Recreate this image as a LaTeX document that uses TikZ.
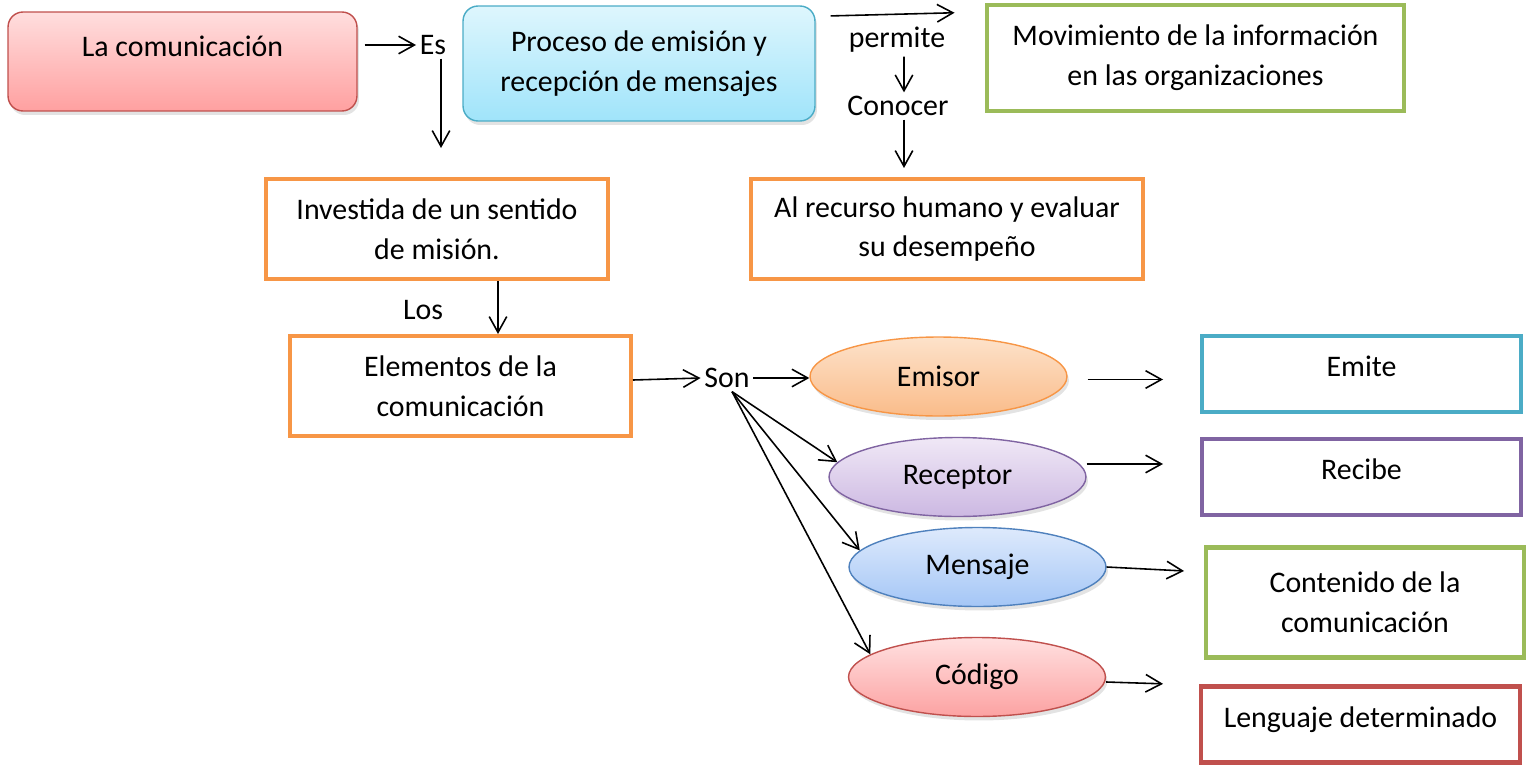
\documentclass[tikz,border=0pt]{standalone}
\usepackage{fontspec}
\setmainfont{Carlito}
\usepackage{tikz}
\usetikzlibrary{shapes.geometric,arrows.meta,shadows}

\definecolor{rojo}{RGB}{192,80,77}
\definecolor{celeste}{RGB}{75,172,198}
\definecolor{verde}{RGB}{155,187,89}
\definecolor{naranja}{RGB}{247,150,70}
\definecolor{morado}{RGB}{128,100,162}
\definecolor{azul}{RGB}{79,129,189}

\tikzset{
  every node/.style={font=\fontsize{17}{22.7}\selectfont},
  arr/.style={-{Straight Barb[length=9pt,width=10pt]},line width=0.9pt},
  sombra/.style={drop shadow={shadow xshift=0.04cm,shadow yshift=-0.08cm,opacity=0.22}},
  redondo/.style={rounded corners=0.3cm,line width=0.8pt,align=center,sombra},
  caja/.style={draw=#1,line width=2.3pt,align=center,minimum height=1.52cm},
  elipse/.style={ellipse,draw=#1,line width=0.8pt,inner sep=0pt,minimum width=5.14cm,minimum height=1.58cm,sombra},
  palabra/.style={inner sep=2pt}
}

\begin{document}
\begin{tikzpicture}[x=0.02cm,y=-0.02cm]
  \useasboundingbox (0,0) rectangle (1526,771);

  % fila de arriba
  \node[redondo,draw=rojo,top color={rgb,255:red,255;green,222;blue,222},bottom color={rgb,255:red,255;green,160;blue,160},
        minimum width=6.98cm,minimum height=1.98cm,text depth=0.62cm] (com) at (182.5,61.5) {La comunicación};
  \node[palabra] (es) at (433,45) {Es};
  \node[redondo,draw=celeste,top color={rgb,255:red,222;green,246;blue,253},bottom color={rgb,255:red,160;green,228;blue,250},
        minimum width=7.04cm,minimum height=2.3cm] (proceso) at (639,63.5) {Proceso de emisión y\\recepción de mensajes};
  \node[palabra] (permite) at (897,40) {permite};
  \node[palabra] (conocer) at (898,106) {Conocer};
  \node[caja=verde,minimum width=8.36cm,minimum height=2.12cm] (mov) at (1195.5,58) {Movimiento de la información\\en las organizaciones};
  \coordinate (esabajo) at (441,148);

  % segunda fila
  \node[caja=naranja,minimum width=6.84cm,minimum height=2cm] (investida) at (437,229) {Investida de un sentido\\de misión.};
  \node[caja=naranja,minimum width=7.84cm,minimum height=2cm] (recurso) at (947,229) {Al recurso humano y evaluar\\su desempeño};
  \node[palabra] (los) at (423,310) {Los};
  \node[caja=naranja,minimum width=6.82cm,minimum height=2cm] (elementos) at (460.5,386) {Elementos de la\\comunicación};
  \node[palabra] (son) at (727,378) {Son};

  % elementos
  \node[elipse=naranja,top color={rgb,255:red,253;green,226;blue,202},bottom color={rgb,255:red,250;green,188;blue,138}] (emisor) at (938.5,376.5) {Emisor};
  \node[elipse=morado,top color={rgb,255:red,240;green,232;blue,246},bottom color={rgb,255:red,204;green,184;blue,226}] (receptor) at (957.5,477) {Receptor};
  \node[elipse=azul,top color={rgb,255:red,222;green,234;blue,252},bottom color={rgb,255:red,164;green,198;blue,246}] (mensaje) at (977.5,567) {Mensaje};
  \node[elipse=rojo,top color={rgb,255:red,255;green,224;blue,224},bottom color={rgb,255:red,252;green,162;blue,162}] (codigo) at (977,677) {Código};

  % cajas de la derecha
  \node[caja=celeste,minimum width=6.38cm,text depth=0.3cm] (emite) at (1361.5,374) {Emite};
  \node[caja=morado,minimum width=6.38cm,text depth=0.3cm] (recibe) at (1361.5,477) {Recibe};
  \node[caja=verde,minimum width=6.36cm,minimum height=2.2cm] (contenido) at (1365,602.5) {Contenido de la\\comunicación};
  \node[caja=rojo,minimum width=6.38cm,text depth=0.3cm] (lenguaje) at (1360.5,724.5) {Lenguaje determinado};

  %com>es
  \draw[arr,shorten <=0.14cm] (com.east |- es) -- (es);
  \draw[arr] (es.south -| esabajo) -- (esabajo);

  %proceso>mov
  \draw[arr,shorten <=0.3cm,shorten >=0.6cm] ([yshift=-0.22cm]proceso.north east) -- ([yshift=-0.18cm]mov.north west);
  \draw[arr] ([xshift=0.14cm]permite.south) -- ([xshift=0.12cm]conocer.north);
  \draw[arr,shorten >=0.18cm] ([xshift=0.12cm]conocer.south) -- ([xshift=0.12cm]conocer.south |- recurso.north);

  %investida>elementos
  \draw[arr] ([xshift=1.22cm]investida.south) -- ([xshift=0.75cm]elementos.north);
  \draw[arr] ([yshift=0.12cm]elementos.east) -- (son.west);

  %son>elipses
  \draw[arr] (son.east) -- (son.east -| emisor.west);
  \draw[arr] ([xshift=0.1cm]son.south) -- (receptor.173);
  \draw[arr] ([xshift=0.1cm]son.south) -- (mensaje.172);
  \draw[arr] ([xshift=0.1cm]son.south) -- (codigo.168);

  %elipses>cajas
  \draw[arr,shorten <=0.4cm,shorten >=0.74cm] ([yshift=-0.06cm]emisor.east) -- ([yshift=-0.06cm]emisor.east -| emite.west);
  \draw[arr,shorten >=0.74cm] ([yshift=0.26cm]receptor.east) -- ([yshift=0.26cm]receptor.east -| recibe.west);
  \draw[arr,shorten >=0.4cm] (mensaje.east) -- ([yshift=-0.1cm]mensaje.east -| contenido.west);
  \draw[arr,shorten >=0.72cm] ([yshift=-0.1cm]codigo.east) -- ([yshift=-0.16cm]codigo.east -| lenguaje.west);
\end{tikzpicture}
\end{document}
